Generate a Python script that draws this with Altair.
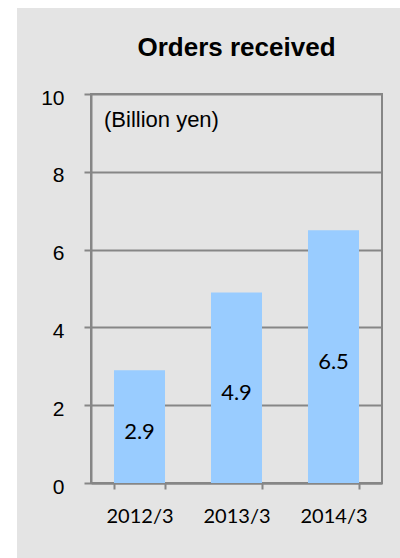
import altair as alt
import pandas as pd

years = ["2012/3", "2013/3", "2014/3"]
values = [2.9, 4.9, 6.5]
value_labels = ["2.9", "4.9", "6.5"]
y_ticks = [0, 2, 4, 6, 8, 10]
title_text = "Orders received"
unit_text = "(Billion yen)"

df = pd.DataFrame({"year": years, "value": values, "label": value_labels})

GRID = "#868686"
BG = "#E4E4E4"
W, H = 291, 389

base = alt.Chart(df)

strips = alt.Chart(pd.DataFrame({"a": [0]})).mark_rect(fill="white", clip=False)
left_strip = strips.encode(x=alt.value(-91), x2=alt.value(-74), y=alt.value(-94), y2=alt.value(464))
top_strip = strips.encode(x=alt.value(-91), x2=alt.value(309), y=alt.value(-94), y2=alt.value(-86))

xenc = alt.X(
    "year:N",
    sort=years,
    title=None,
    scale=alt.Scale(paddingInner=0.474, paddingOuter=0.237),
    axis=alt.Axis(
        labelAngle=0,
        labelFont="Lato",
        labelFontSize=20,
        labelColor="black",
        labelPadding=17,
        tickBand="extent",
        tickSize=6,
        tickWidth=2,
        tickColor=GRID,
        domainColor=GRID,
        domainWidth=2,
        grid=False,
    ),
)

yenc = alt.Y(
    "value:Q",
    title=None,
    scale=alt.Scale(domain=[0, 10], nice=False),
    axis=alt.Axis(
        values=y_ticks,
        labelFont="Liberation Sans",
        labelFontSize=21,
        labelColor="black",
        labelPadding=20,
        labelOffset=4,
        tickSize=7,
        tickWidth=2,
        tickColor=GRID,
        domainColor=GRID,
        domainWidth=2,
        grid=True,
        gridColor=GRID,
        gridWidth=2,
        gridOpacity=1,
    ),
)

bars = base.mark_bar(color="#99CCFF").encode(x=xenc, y=yenc)

labels = base.transform_calculate(mid="datum.value / 2").mark_text(
    font="Lato", fontSize=22, color="black", baseline="middle", dy=5
).encode(
    x=alt.X("year:N", sort=years),
    y=alt.Y("mid:Q"),
    text="label:N",
)

unit = alt.Chart(pd.DataFrame({"t": [unit_text]})).mark_text(
    font="Liberation Sans", fontSize=22, color="black", align="left", baseline="middle"
).encode(x=alt.value(13), y=alt.value(26), text="t:N")

chart = alt.layer(left_strip, top_strip, bars, labels, unit).properties(
    width=W,
    height=H,
    padding={"left": 91, "top": 94, "right": 18, "bottom": 75},
    autosize=alt.AutoSizeParams(type="none"),
    background=BG,
    title=alt.TitleParams(
        title_text,
        font="Liberation Sans",
        fontSize=26,
        fontWeight="bold",
        color="black",
        anchor="middle",
        frame="group",
        baseline="alphabetic",
        offset=0,
        dy=82,
    ),
).configure_view(stroke=GRID, strokeWidth=2)

chart.save("out.html", embed_options={"renderer": "svg", "actions": False})
